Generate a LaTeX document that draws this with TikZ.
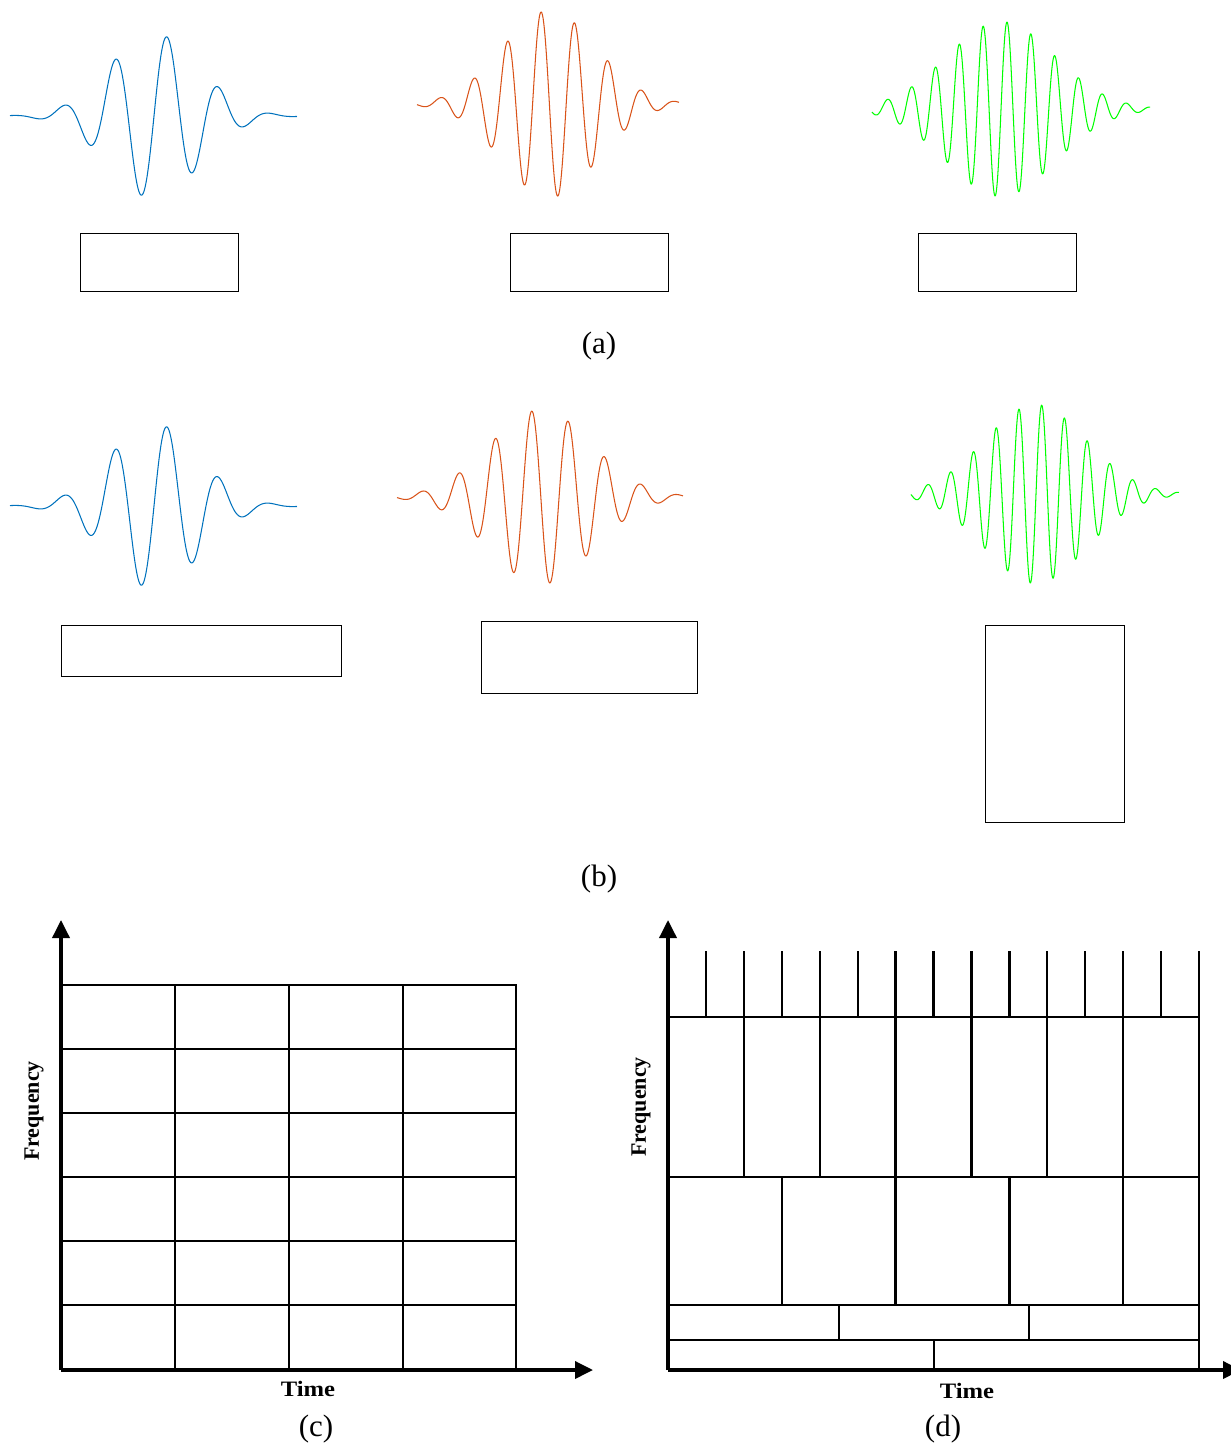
\documentclass[tikz,border=0pt]{standalone}
\usepackage{fontspec}
\setmainfont{Liberation Serif}
\usetikzlibrary{arrows.meta}
\definecolor{wblue}{HTML}{0072BD}
\definecolor{wred}{HTML}{D95319}
\definecolor{wgreen}{HTML}{00FF00}
\begin{document}
\begin{tikzpicture}[x=1pt,y=-1pt,
  wave/.style={line width=1.05pt, line join=round},
  bbox/.style={draw=black, line width=0.9pt},
  gridl/.style={line width=2.3pt, line cap=rect},
  axis/.style={line width=3.6pt, -{Triangle[length=18pt,width=17pt]}},
  sublbl/.style={font=\fontsize{31}{31}\selectfont, inner sep=0pt},
  axlbl/.style={font=\fontsize{22}{22}\selectfont\bfseries, inner sep=0pt},
]
\useasboundingbox (0,0) rectangle (1231,1448);

% ---------- (a) wavelets ----------
\draw[wave, wblue] plot[domain=10:297, samples=400]
  (\x, {116 - 82.5*exp(-0.5*((\x-154)/44.5)^2)*cos((\x-167)/52*360)});
\draw[wave, wred] plot[domain=417:679, samples=400]
  (\x, {104 - 93.5*exp(-0.5*((\x-549.5)/47)^2)*cos((\x-541)/33.6*360)});
\draw[wave, wgreen] plot[domain=872:1150, samples=600]
  (\x, {109 - 87.5*exp(-0.5*((\x-1001)/54)^2)*cos((\x-1007)/23.9*360)});

\draw[bbox] (80,233) rectangle (238,291);
\draw[bbox] (510,233) rectangle (668,291);
\draw[bbox] (918,233) rectangle (1076,291);
\node[sublbl] (la) at (599,346) {(a)};

% ---------- (b) wavelets ----------
\draw[wave, wblue] plot[domain=10:297, samples=400]
  (\x, {506 - 82.5*exp(-0.5*((\x-154)/44.5)^2)*cos((\x-167)/52*360)});
\draw[wave, wred] plot[domain=397:683, samples=400]
  (\x, {497 - 87.3*exp(-0.5*((\x-541)/51)^2)*cos((\x-531.7)/36.5*360)});
\draw[wave, wgreen] plot[domain=911:1179, samples=600]
  (\x, {494 - 89.5*exp(-0.5*((\x-1035.5)/50.7)^2)*cos((\x-1041.7)/22.8*360)});

\draw[bbox] (61,625) rectangle (341,676);
\draw[bbox] (481,621) rectangle (697,693);
\draw[bbox] (985,625) rectangle (1124,822);
\node[sublbl] (lb) at (599,879) {(b)};

% ---------- (c) STFT tiling ----------
\coordinate (co) at (61,1370);
\coordinate (cy) at (61,920);
\coordinate (cx) at (593,1370);
\foreach \yy in {985,1049,1113,1177,1241,1305}
  \draw[gridl] (61,\yy) -- (516,\yy);
\foreach \xx in {175,289,403,516}
  \draw[gridl] (\xx,985) -- (\xx,1370);
\draw[axis] (co) -- (cy);
\draw[axis] (co) -- (cx);
\node[axlbl, xscale=1.12] (tc) at (308,1389) {Time};
\node[axlbl, rotate=90] (fc) at (34,1111) {Frequency};
\node[sublbl] (lc) at (316,1429) {(c)};

% ---------- (d) wavelet tiling ----------
\coordinate (do) at (668,1370);
\coordinate (dy) at (668,920);
\coordinate (dx) at (1241,1370);
\foreach \yy in {1017,1177,1305,1340}
  \draw[gridl] (668,\yy) -- (1199,\yy);
\draw[gridl] (1199,952) -- (1199,1370);
\foreach \i in {1,...,13}
  \draw[gridl] ({668+37.93*\i},952) -- ({668+37.93*\i},1017);
\foreach \i in {1,...,6}
  \draw[gridl] ({668+75.86*\i},1017) -- ({668+75.86*\i},1177);
\foreach \i in {1,...,4}
  \draw[gridl] ({668+113.79*\i},1177) -- ({668+113.79*\i},1305);
\draw[gridl] (839,1305) -- (839,1340);
\draw[gridl] (1029,1305) -- (1029,1340);
\draw[gridl] (934,1340) -- (934,1370);
\draw[axis] (do) -- (dy);
\draw[axis] (do) -- (dx);
\node[axlbl, xscale=1.12] (td) at (967,1391) {Time};
\node[axlbl, rotate=90] (fd) at (641,1107) {Frequency};
\node[sublbl] (ld) at (943,1429) {(d)};
\end{tikzpicture}
\end{document}
